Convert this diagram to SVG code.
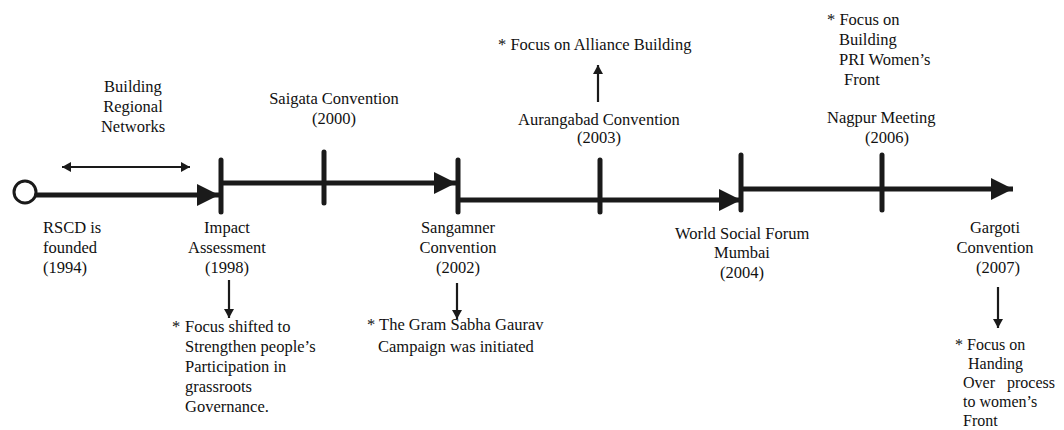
<svg xmlns="http://www.w3.org/2000/svg" width="1064" height="430" viewBox="0 0 1064 430" font-family="'Liberation Serif', 'DejaVu Serif', serif">
<style>
text{font-family:'Liberation Serif','DejaVu Serif',serif;font-size:16.5px;fill:#111}
.m{text-anchor:middle}
.s{font-size:16px}
.main{stroke:#1a1a1a;stroke-width:5;fill:none}
.tick{stroke:#1a1a1a;stroke-width:5;stroke-linecap:round}
.thin{stroke:#1a1a1a;stroke-width:2.2;fill:none}
</style>
<defs>
<marker id="big" markerUnits="userSpaceOnUse" markerWidth="24" markerHeight="22" refX="22" refY="11" orient="auto"><path d="M0,0 L22,11 L0,22 z" fill="#1a1a1a"/></marker>
<marker id="sm" markerUnits="userSpaceOnUse" markerWidth="10" markerHeight="10" refX="9" refY="5" orient="auto-start-reverse"><path d="M0,0 L9,5 L0,10 z" fill="#1a1a1a"/></marker>
</defs>
<g id="connectors">
<circle cx="25" cy="192" r="11" fill="none" stroke="#1a1a1a" stroke-width="3"/>
<line class="main" x1="36" y1="195" x2="219" y2="195" marker-end="url(#big)"/>
<line class="main" x1="221" y1="183" x2="456" y2="183" marker-end="url(#big)"/>
<line class="main" x1="458" y1="200" x2="741" y2="200" marker-end="url(#big)"/>
<line class="main" x1="741" y1="189" x2="1013" y2="189" marker-end="url(#big)"/>
<line class="tick" x1="221" y1="160" x2="221" y2="212"/>
<line class="tick" x1="324" y1="152" x2="324" y2="203"/>
<line class="tick" x1="458" y1="160" x2="458" y2="212"/>
<line class="tick" x1="600" y1="160" x2="600" y2="212"/>
<line class="tick" x1="741" y1="155" x2="741" y2="210"/>
<line class="tick" x1="882" y1="155" x2="882" y2="210"/>
<line class="thin" x1="62" y1="167" x2="190" y2="167" marker-start="url(#sm)" marker-end="url(#sm)"/>
<line class="thin" x1="598" y1="102" x2="598" y2="65" marker-end="url(#sm)"/>
<line class="thin" x1="229" y1="280" x2="229" y2="318" marker-end="url(#sm)"/>
<line class="thin" x1="457" y1="283" x2="457" y2="319" marker-end="url(#sm)"/>
<line class="thin" x1="998" y1="287" x2="998" y2="328" marker-end="url(#sm)"/>
</g>
<g id="building-networks">
<text class="m" x="133" y="92">Building</text>
<text class="m" x="133" y="112">Regional</text>
<text class="m" x="133" y="132">Networks</text>
</g>
<g id="rscd">
<text x="43" y="233">RSCD is</text>
<text x="43" y="253">founded</text>
<text x="43" y="273">(1994)</text>
</g>
<g id="impact">
<text class="m" x="227" y="233">Impact</text>
<text class="m" x="227" y="253">Assessment</text>
<text class="m" x="227" y="273">(1998)</text>
</g>
<g id="impact-note">
<text x="172" y="332">*</text>
<text x="185" y="332">Focus shifted to</text>
<text x="185" y="352">Strengthen people’s</text>
<text x="185" y="372">Participation in</text>
<text x="185" y="392">grassroots</text>
<text x="185" y="412">Governance.</text>
</g>
<g id="saigata">
<text class="m" x="334" y="104">Saigata Convention</text>
<text class="m" x="334" y="124">(2000)</text>
</g>
<g id="sangamner">
<text class="m" x="458" y="233">Sangamner</text>
<text class="m" x="458" y="253">Convention</text>
<text class="m" x="458" y="273">(2002)</text>
</g>
<g id="sangamner-note">
<text x="367" y="330">* The Gram Sabha Gaurav</text>
<text x="378" y="352">Campaign was initiated</text>
</g>
<g id="aurangabad">
<text class="m" x="599" y="125">Aurangabad Convention</text>
<text class="m" x="599" y="143">(2003)</text>
</g>
<g id="alliance-note">
<text x="498" y="50">* Focus on Alliance Building</text>
</g>
<g id="wsf">
<text x="675" y="239">World Social Forum</text>
<text class="m" x="742" y="258">Mumbai</text>
<text class="m" x="742" y="278">(2004)</text>
</g>
<g id="nagpur">
<text x="827" y="123">Nagpur Meeting</text>
<text class="m" x="887" y="143">(2006)</text>
</g>
<g id="nagpur-note">
<text x="827" y="25">* Focus on</text>
<text x="839" y="45">Building</text>
<text x="839" y="65">PRI Women’s</text>
<text x="844" y="85">Front</text>
</g>
<g id="gargoti">
<text class="m" x="995" y="233">Gargoti</text>
<text class="m" x="995" y="253">Convention</text>
<text class="m" x="998" y="273">(2007)</text>
</g>
<g id="gargoti-note">
<text class="s" x="955" y="350">* Focus on</text>
<text class="s" x="968" y="369">Handing</text>
<text class="s" x="963" y="388" xml:space="preserve">Over   process</text>
<text class="s" x="963" y="407">to women’s</text>
<text class="s" x="963" y="426">Front</text>
</g>
</svg>
